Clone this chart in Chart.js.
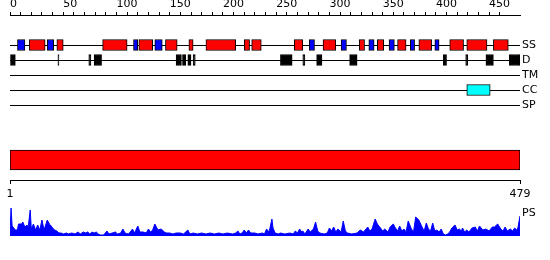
<!DOCTYPE html>
<html>
<head>
<meta charset="utf-8">
<title>Protein features</title>
<script src="https://cdn.jsdelivr.net/npm/chart.js@4.4.1"></script>
<style>
  html, body { margin: 0; padding: 0; background: #fff; }
  #wrap { position: relative; width: 550px; height: 260px; }
  canvas { position: absolute; left: 0; }
</style>
</head>
<body>
<div id="wrap">
  <canvas id="tracks" width="550" height="120" style="top:0"></canvas>
  <canvas id="domain" width="550" height="65" style="top:140px"></canvas>
  <canvas id="profile" width="550" height="36" style="top:200px"></canvas>
</div>
<script>
const seqLength = 479;
const trackNames = ['SS', 'D', 'TM', 'CC', 'SP'];

// residue ranges
const helices = [[18, 33], [44, 50], [87, 110], [121, 134], [146, 157], [168, 172], [184, 212],
  [220, 225], [227, 236], [267, 275], [294, 306], [328, 333], [345, 351], [364, 372],
  [384, 396], [413, 426], [429, 448], [454, 468]];
const strands = [[7, 14], [35, 41], [116, 120], [136, 143], [281, 286], [311, 316], [337, 342],
  [356, 361], [376, 380], [399, 403]];
const disorder = [[0, 5], [45, 46], [74, 76], [79, 86], [156, 161], [162, 165], [167, 170],
  [172, 174], [254, 265], [275, 277], [288, 293], [319, 326], [407, 410], [428, 430],
  [447, 454], [469, 479]];
const coils = [[429, 451]];
const domains = [[1, 479]];

const psResidue = [0, 1, 2, 5, 7, 8, 11, 12, 14, 16, 17, 19, 20, 22, 24, 26, 28, 30, 32, 35, 37, 38, 40, 42, 44, 46,
  48, 50, 53, 55, 58, 61, 64, 66, 69, 71, 73, 75, 77, 79, 81, 83, 85, 88, 91, 93, 96, 99, 101, 104, 106, 108,
  111, 113, 115, 117, 120, 122, 125, 128, 130, 132, 134, 136, 139, 142, 145, 147, 150, 153, 156, 160, 163,
  167, 169, 172, 176, 180, 184, 188, 192, 196, 200, 204, 209, 212, 214, 216, 218, 220, 222, 224, 226, 230,
  233, 237, 239, 241, 243, 244, 246, 247, 249, 252, 254, 258, 263, 266, 268, 270, 272, 274, 275, 277, 280,
  282, 285, 287, 289, 291, 295, 298, 300, 302, 304, 306, 308, 311, 313, 315, 317, 321, 326, 329, 332, 336,
  338, 340, 343, 345, 348, 350, 352, 355, 357, 360, 362, 364, 366, 368, 370, 372, 374, 377, 379, 381, 384,
  387, 389, 391, 393, 395, 397, 399, 401, 403, 405, 407, 409, 411, 413, 415, 418, 420, 422, 424, 425, 427,
  429, 431, 434, 437, 439, 441, 444, 447, 450, 453, 455, 458, 461, 463, 465, 467, 470, 472, 474, 476, 477, 479];
const psScore = [4, 28, 10, 6, 6, 12, 12, 14, 9, 11, 8, 26, 7, 12, 6, 11, 6, 16, 6, 16, 12, 11, 8, 6, 5, 3,
  3, 2, 3, 2, 3, 2, 4, 2, 4, 3, 4, 2, 4, 3, 4, 2, 1, 1, 5, 2, 3, 4, 2, 3, 7, 3,
  2, 4, 7, 3, 10, 4, 4, 3, 7, 4, 6, 12, 6, 7, 4, 3, 3, 2, 3, 3, 2,
  6, 2, 3, 2, 3, 2, 3, 2, 3, 2, 3, 2, 3, 5, 2, 3, 6, 3, 6, 3, 3,
  2, 3, 2, 7, 4, 7, 17, 8, 3, 2, 3, 2, 3, 2, 5, 3, 7, 4, 5, 2, 7,
  4, 7, 14, 5, 3, 2, 3, 8, 5, 9, 4, 7, 4, 15, 5, 3, 2, 3, 6, 4, 9,
  5, 7, 17, 12, 8, 5, 7, 4, 9, 12, 8, 5, 10, 5, 7, 4, 15, 7, 4, 19, 16,
  9, 5, 13, 7, 5, 13, 5, 6, 4, 7, 2, 1, 2, 4, 8, 11, 6, 7, 5, 8, 4,
  6, 4, 8, 9, 5, 10, 6, 7, 5, 9, 9, 12, 7, 5, 9, 5, 7, 5, 8, 6, 8, 20];

Chart.defaults.font.family = "'DejaVu Sans', sans-serif";
Chart.defaults.font.size = 11;
Chart.defaults.color = '#000';
Chart.defaults.animation = false;
Chart.defaults.responsive = false;
Chart.defaults.plugins.legend.display = false;
Chart.defaults.plugins.tooltip.enabled = false;

function bars(label, ranges, row, fill, thickness) {
  return {
    label,
    data: ranges.map(r => ({ x: r, y: row })),
    backgroundColor: fill,
    borderColor: '#000',
    borderWidth: 1,
    borderSkipped: false,
    barThickness: thickness,
    grouped: false
  };
}

// keep the axes from reserving room for half labels
function noPad(size) {
  return s => {
    if (size.height !== undefined) s.height = size.height;
    if (size.width !== undefined) s.width = size.width;
    s.paddingTop = s.paddingBottom = s.paddingLeft = s.paddingRight = 0;
  };
}

const rowLine = c => (c.tick && trackNames[c.tick.value]) ? '#000' : 'rgba(0,0,0,0)';

// feature tracks with the residue ruler on top
new Chart(document.getElementById('tracks'), {
  type: 'bar',
  data: {
    datasets: [
      bars('helix', helices, 0, '#ff0000', 11),
      bars('strand', strands, 0, '#0000ff', 11),
      bars('disorder', disorder, 1, '#000000', 11),
      bars('coiled coil', coils, 3, '#00ffff', 11)
    ]
  },
  options: {
    indexAxis: 'y',
    layout: { padding: { left: 10 } },
    scales: {
      x: {
        type: 'linear', position: 'top', min: 0, max: seqLength,
        afterBuildTicks: s => { s.ticks = s.ticks.filter(t => t.value % 10 === 0); },
        afterFit: noPad({ height: 15 }),
        ticks: { stepSize: 10, autoSkip: false, maxRotation: 0, align: 'start', padding: 1,
          callback: v => v % 50 === 0 ? String(v) : '' },
        grid: { drawOnChartArea: false, tickLength: 3, color: '#000' },
        border: { color: '#000' }
      },
      y: {
        type: 'linear', position: 'right', reverse: true, min: -2, max: 5, offset: false,
        afterFit: noPad({ width: 30 }),
        ticks: { stepSize: 1, padding: 2, autoSkip: false, callback: v => trackNames[v] || '' },
        grid: { offset: false, drawTicks: false, color: rowLine },
        border: { display: false }
      }
    }
  }
});

// domain bar with sequence ends
new Chart(document.getElementById('domain'), {
  type: 'bar',
  data: { datasets: [bars('domain', domains, 0, '#ff0000', 20)] },
  options: {
    indexAxis: 'y',
    layout: { padding: { left: 10, right: 30 } },
    scales: {
      x: {
        type: 'linear', position: 'bottom', min: 1, max: seqLength,
        afterBuildTicks: s => { s.ticks = [{ value: 1 }, { value: seqLength }]; },
        afterFit: noPad({ height: 25 }),
        ticks: { autoSkip: false, maxRotation: 0, padding: 4 },
        grid: { drawOnChartArea: false, tickLength: 4, color: '#000' },
        border: { color: '#000' }
      },
      y: { type: 'linear', display: false, min: -1, max: 1, offset: false }
    }
  }
});

// PS profile
new Chart(document.getElementById('profile'), {
  type: 'line',
  data: {
    datasets: [{
      data: psResidue.map((x, i) => ({ x, y: psScore[i] })),
      borderColor: '#0000ff',
      backgroundColor: '#0000ff',
      borderWidth: 1,
      pointRadius: 0,
      fill: 'origin',
      tension: 0
    }]
  },
  options: {
    layout: { padding: { left: 10 } },
    scales: {
      x: { type: 'linear', display: false, min: 0, max: seqLength },
      y: {
        type: 'linear', position: 'right', min: 0, max: 36,
        afterBuildTicks: s => { s.ticks = [{ value: 23 }]; },
        afterFit: noPad({ width: 30 }),
        ticks: { padding: 2, callback: () => 'PS' },
        grid: { display: false, drawTicks: false },
        border: { display: false }
      }
    }
  }
});
</script>
</body>
</html>
